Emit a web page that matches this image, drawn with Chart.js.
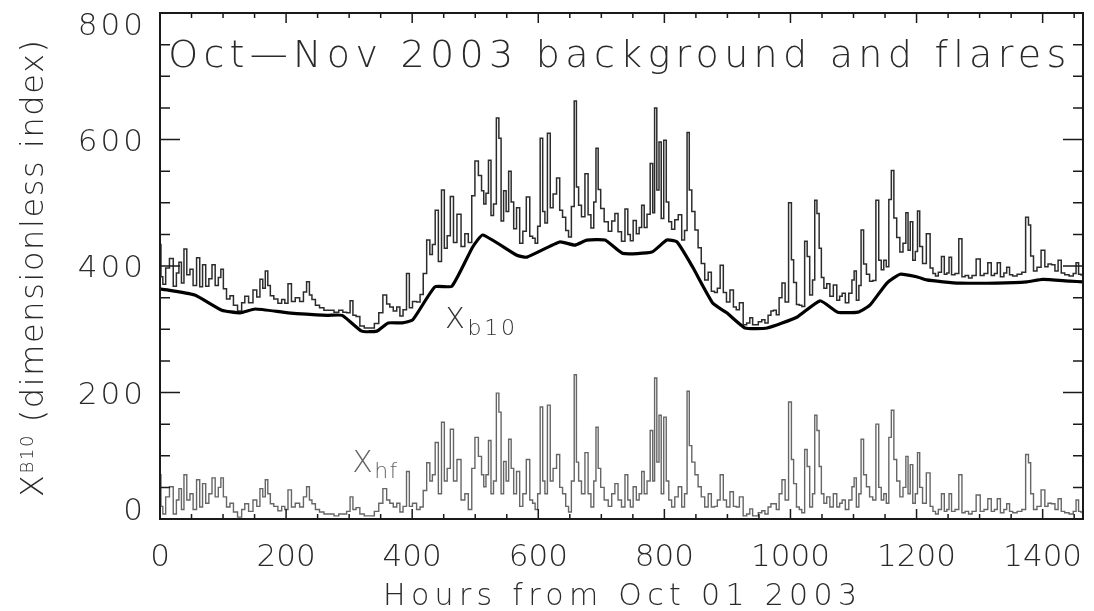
<!DOCTYPE html>
<html>
<head>
<meta charset="utf-8">
<script src="https://cdn.jsdelivr.net/npm/chart.js@4.4.0/dist/chart.umd.min.js"></script>
<style>
html, body { margin: 0; padding: 0; background: #fff; }
canvas { display: block; }
</style>
</head>
<body>
<canvas id="grafico" width="1094" height="611"></canvas>
<script>
// horas (desde 01/10/2003) dos pontos
const hfHours = [
    0, 3, 6, 12, 18, 24, 28, 32, 36, 40,
    45, 50, 55, 61, 65, 70, 75, 80, 85, 90,
    95, 98, 103, 108, 114, 119, 127, 132, 137, 144,
    151, 156, 161, 165, 169, 173, 177, 184, 190, 196,
    200, 206, 211, 218, 225, 230, 235, 239, 243, 250,
    256, 264, 272, 280, 287, 293, 299, 304, 308, 314,
    320, 328, 336, 344, 350, 357, 362, 367, 373, 378,
    383, 388, 394, 397, 404, 410, 415, 420, 426, 430,
    434, 439, 444, 449, 453, 458, 463, 468, 474, 481,
    486, 492, 497, 502, 508, 512, 515, 519, 523, 527,
    531, 536, 539, 543, 547, 551, 555, 559, 563, 568,
    573, 578, 584, 589, 593, 597, 601, 605, 609, 612,
    617, 621, 626, 632, 636, 641, 646, 650, 655, 659,
    662, 666, 671, 677, 681, 686, 690, 693, 697, 701,
    708, 714, 719, 724, 729, 735, 740, 744, 748, 753,
    758, 762, 766, 770, 775, 780, 783, 786, 790, 793,
    797, 801, 805, 809, 814, 819, 825, 830, 834, 838,
    841, 846, 851, 856, 861, 867, 872, 877, 882, 886,
    891, 896, 901, 907, 912, 916, 922, 928, 933, 938,
    942, 946, 952, 957, 962, 967, 971, 975, 980, 984,
    989, 994, 1000, 1003, 1007, 1012, 1016, 1020, 1025, 1028,
    1033, 1037, 1040, 1044, 1047, 1051, 1055, 1060, 1065, 1071,
    1076, 1080, 1084, 1090, 1095, 1100, 1102, 1107, 1110, 1114,
    1118, 1123, 1128, 1133, 1138, 1142, 1146, 1150, 1154, 1158,
    1162, 1166, 1171, 1176, 1181, 1185, 1188, 1192, 1196, 1200,
    1203, 1207, 1212, 1219, 1224, 1228, 1232, 1237, 1242, 1246,
    1250, 1253, 1258, 1264, 1270, 1274, 1280, 1285, 1291, 1298,
    1304, 1310, 1316, 1321, 1326, 1330, 1336, 1341, 1345, 1350,
    1355, 1364, 1370, 1376, 1379, 1383, 1388, 1394, 1401, 1406,
    1411, 1417, 1422, 1427, 1432, 1438, 1446, 1451, 1455, 1459,
    1462, 1464
];

// X_hf (componente de flares)
const hfValues = [
    70, 20, 8, 35, 51, 8, 30, 48, 15, 70,
    30, 40, 15, 62, 19, 56, 25, 40, 65, 35,
    50, 65, 35, 19, 25, 11, 3, 15, 24, 12,
    30, 20, 48, 35, 62, 40, 24, 20, 13, 20,
    15, 46, 19, 25, 19, 35, 51, 30, 24, 15,
    11, 8, 8, 5, 8, 8, 12, 35, 15, 18,
    8, 5, 5, 12, 25, 48, 30, 25, 19, 25,
    11, 20, 75, 20, 25, 15, 19, 45, 89, 60,
    70, 121, 40, 153, 60, 80, 142, 60, 94, 30,
    40, 15, 80, 129, 99, 70, 51, 70, 124, 40,
    60, 199, 169, 40, 91, 60, 126, 80, 40, 75,
    20, 40, 94, 30, 25, 15, 40, 177, 60, 40,
    180, 60, 80, 102, 50, 40, 20, 11, 60, 228,
    90, 60, 40, 105, 40, 19, 60, 145, 80, 50,
    30, 20, 40, 56, 30, 19, 70, 30, 19, 51,
    30, 40, 75, 40, 60, 140, 60, 223, 90, 164,
    40, 161, 60, 30, 19, 35, 51, 19, 40, 202,
    116, 90, 70, 51, 35, 19, 40, 19, 20, 30,
    70, 30, 19, 43, 20, 19, 35, 5, 8, 16,
    5, 5, 10, 13, 8, 19, 24, 24, 15, 40,
    62, 30, 185, 94, 56, 19, 15, 10, 110, 83,
    19, 40, 164, 140, 83, 40, 25, 35, 19, 40,
    19, 25, 30, 15, 30, 51, 65, 19, 40, 126,
    70, 51, 35, 30, 150, 50, 30, 40, 25, 129,
    172, 94, 60, 35, 50, 99, 40, 86, 25, 40,
    105, 50, 25, 73, 20, 12, 8, 15, 40, 12,
    15, 40, 12, 15, 70, 10, 12, 8, 12, 38,
    12, 15, 32, 12, 15, 32, 10, 15, 24, 12,
    10, 12, 15, 102, 89, 40, 15, 20, 46, 20,
    25, 24, 15, 32, 12, 10, 8, 12, 30, 12,
    11, 10
];

// X_B10 total (linha fina de cima)
const b10Values = [
    434, 383, 371, 397, 412, 368, 389, 406, 373, 427,
    386, 395, 369, 413, 367, 402, 368, 380, 402, 369,
    382, 395, 364, 348, 353, 338, 329, 342, 352, 342,
    362, 351, 379, 365, 392, 369, 353, 348, 341, 347,
    341, 372, 344, 350, 344, 359, 375, 354, 347, 338,
    334, 330, 330, 327, 330, 327, 326, 345, 322, 320,
    305, 302, 302, 309, 326, 354, 340, 335, 329, 335,
    321, 331, 388, 334, 344, 343, 355, 388, 441, 418,
    434, 488, 407, 520, 428, 448, 510, 437, 482, 431,
    451, 437, 511, 566, 543, 519, 498, 515, 567, 480,
    498, 634, 602, 471, 519, 486, 550, 501, 459, 492,
    436, 455, 509, 447, 444, 436, 463, 602, 486, 468,
    610, 492, 514, 539, 488, 477, 456, 446, 494, 661,
    525, 496, 478, 546, 481, 460, 501, 586, 521, 491,
    470, 455, 471, 483, 454, 439, 490, 450, 440, 472,
    451, 461, 496, 461, 482, 562, 484, 650, 520, 596,
    475, 599, 501, 470, 458, 473, 481, 441, 456, 611,
    520, 486, 457, 429, 404, 378, 390, 360, 358, 365,
    401, 358, 343, 362, 335, 331, 342, 307, 310, 318,
    307, 307, 312, 315, 310, 322, 329, 330, 323, 350,
    373, 343, 500, 410, 374, 339, 338, 336, 439, 415,
    354, 378, 504, 483, 428, 382, 365, 372, 352, 370,
    346, 352, 357, 342, 357, 378, 392, 346, 369, 457,
    403, 387, 376, 377, 504, 409, 394, 409, 399, 505,
    551, 476, 445, 422, 436, 484, 425, 470, 409, 423,
    487, 431, 404, 451, 397, 388, 384, 390, 415, 387,
    389, 414, 386, 388, 443, 383, 385, 381, 385, 411,
    385, 388, 405, 385, 388, 405, 383, 389, 398, 386,
    384, 387, 390, 477, 465, 416, 392, 398, 425, 399,
    403, 402, 392, 409, 389, 386, 384, 388, 405, 387,
    386, 385
];

// X_b10 (fundo, linha grossa)
const baseHours = [0, 55, 98, 127, 151, 203, 266, 289, 320, 344, 362, 384, 401, 436, 463, 496,
    512, 566, 582, 634, 658, 677, 706, 734, 780, 804, 820, 845, 877, 899, 928, 963,
    1010, 1047, 1075, 1107, 1126, 1153, 1174, 1200, 1216, 1242, 1269, 1327, 1375, 1400, 1443, 1464];
const baseValues = [364, 354, 330, 326, 332, 326, 322, 322, 297, 297, 310, 310, 315, 367, 368, 430,
    449, 417, 414, 438, 433, 441, 441, 420, 422, 441, 438, 398, 341, 326, 302, 302,
    319, 345, 327, 327, 338, 373, 387, 383, 378, 375, 373, 373, 375, 379, 376, 375];

const xTickLabels = [0, 200, 400, 600, 800, 1000, 1200, 1400];
const yTickLabels = [0, 200, 400, 600, 800];

const FONT = '"DejaVu Sans", "Liberation Sans", sans-serif';
const PESO = '200 ';

// desenha texto em partes (para subscritos), esticando o espaçamento até 'target'
function drawRuns(ctx, runs, x, y, target) {
    let natural = 0, chars = 0;
    ctx.letterSpacing = '0px';
    for (let r of runs) {
        ctx.font = PESO + r[1] + 'px ' + FONT;
        natural += ctx.measureText(r[0]).width;
        chars += r[0].length;
    }
    let sp = (target && chars > 1) ? (target - natural) / (chars - 1) : 0;
    for (let r of runs) {
        ctx.font = PESO + r[1] + 'px ' + FONT;
        ctx.letterSpacing = '0px';
        let w = ctx.measureText(r[0]).width;
        ctx.letterSpacing = sp + 'px';
        ctx.fillText(r[0], x, y + r[2]);
        x += w + sp * r[0].length;
    }
    ctx.letterSpacing = '0px';
}

const moldura = {
    id: 'moldura',
    afterDraw(chart) {
        const ctx = chart.ctx;
        const a = chart.chartArea;
        const xs = chart.scales.x;
        const ys = chart.scales.y;

        ctx.save();
        ctx.strokeStyle = '#1a1a1a';
        ctx.lineWidth = 2;
        ctx.strokeRect(a.left, a.top, a.right - a.left, a.bottom - a.top);

        // ticks para dentro nos quatro lados
        ctx.lineWidth = 1.5;
        ctx.beginPath();
        for (let v = 0; v <= xs.max; v += 50) {
            let px = xs.getPixelForValue(v);
            let len = xTickLabels.includes(v) ? 10 : 5;
            ctx.moveTo(px, a.bottom); ctx.lineTo(px, a.bottom - len);
            ctx.moveTo(px, a.top); ctx.lineTo(px, a.top + len);
        }
        for (let v = 0; v <= ys.max; v += 50) {
            let py = ys.getPixelForValue(v);
            let len = yTickLabels.includes(v) ? 20 : 10;
            ctx.moveTo(a.left, py); ctx.lineTo(a.left + len, py);
            ctx.moveTo(a.right, py); ctx.lineTo(a.right - len, py);
        }
        ctx.stroke();

        // rótulos do eixo y (os extremos ficam dentro da moldura)
        ctx.fillStyle = '#2a2a2a';
        ctx.font = PESO + '31px ' + FONT;
        ctx.textAlign = 'right';
        ctx.textBaseline = 'alphabetic';
        ctx.letterSpacing = '3px';
        for (let v of yTickLabels) {
            let py = ys.getPixelForValue(v);
            py = Math.min(Math.max(py, a.top + 11), a.bottom - 10);
            ctx.fillText(String(v), a.left - 14, py + 11);
        }
        ctx.letterSpacing = '0px';

        ctx.textAlign = 'left';
        // título interno
        drawRuns(ctx, [['Oct\u2014Nov 2003 background and flares', 38, 0]],
            xs.getPixelForValue(13), ys.getPixelForValue(715), 898);

        // título do eixo x
        drawRuns(ctx, [['Hours from Oct 01 2003', 30, 0]], 383, 605, 474);

        // título do eixo y
        ctx.save();
        ctx.translate(43, 497);
        ctx.rotate(-Math.PI / 2);
        drawRuns(ctx, [['X', 32, 0], ['B10', 18, -10], [' (dimensionless index)', 32, 0]], 0, 0, 457);
        ctx.restore();

        // rótulos das curvas
        ctx.fillStyle = '#333';
        drawRuns(ctx, [['X', 29, 0], ['b10', 22, 7]], xs.getPixelForValue(452), ys.getPixelForValue(302), 70);
        ctx.fillStyle = '#666';
        drawRuns(ctx, [['X', 30, 0], ['hf', 22, 6]], xs.getPixelForValue(305), ys.getPixelForValue(74), 45);
        ctx.restore();
    }
};

new Chart(document.getElementById('grafico'), {
    type: 'line',
    data: {
        datasets: [
            {
                label: 'Xb10',
                data: baseHours.map((h, i) => ({ x: h, y: baseValues[i] })),
                borderColor: '#000',
                borderWidth: 3.2,
                pointRadius: 0,
                tension: 0.15
            },
            {
                label: 'XB10',
                data: hfHours.map((h, i) => ({ x: h, y: b10Values[i] })),
                borderColor: '#2c2c2c',
                borderWidth: 1.5,
                pointRadius: 0,
                stepped: 'middle'
            },
            {
                label: 'Xhf',
                data: hfHours.map((h, i) => ({ x: h, y: hfValues[i] })),
                borderColor: '#666',
                borderWidth: 1.4,
                pointRadius: 0,
                stepped: 'middle'
            }
        ]
    },
    options: {
        responsive: false,
        animation: false,
        devicePixelRatio: 1,
        layout: { padding: { top: 13, right: 11, left: 0, bottom: 0 } },
        plugins: {
            legend: { display: false },
            tooltip: { enabled: false }
        },
        scales: {
            x: {
                type: 'linear',
                min: 0,
                max: 1464,
                grid: { display: false, drawTicks: false },
                border: { display: false },
                afterBuildTicks: (scale) => { scale.ticks = xTickLabels.map(v => ({ value: v })); },
                afterFit: (scale) => { scale.height = 92; scale.paddingLeft = 0; scale.paddingRight = 0; },
                ticks: {
                    autoSkip: false,
                    maxRotation: 0,
                    padding: 20,
                    color: '#2a2a2a',
                    font: { family: FONT, size: 31, weight: 200 },
                    callback: (v) => String(v)
                }
            },
            y: {
                min: 0,
                max: 800,
                grid: { display: false, drawTicks: false },
                border: { display: false },
                afterBuildTicks: (scale) => { scale.ticks = yTickLabels.map(v => ({ value: v })); },
                afterFit: (scale) => { scale.width = 160; scale.paddingTop = 0; scale.paddingBottom = 0; },
                ticks: { display: false }
            }
        }
    },
    plugins: [moldura]
});
</script>
</body>
</html>
